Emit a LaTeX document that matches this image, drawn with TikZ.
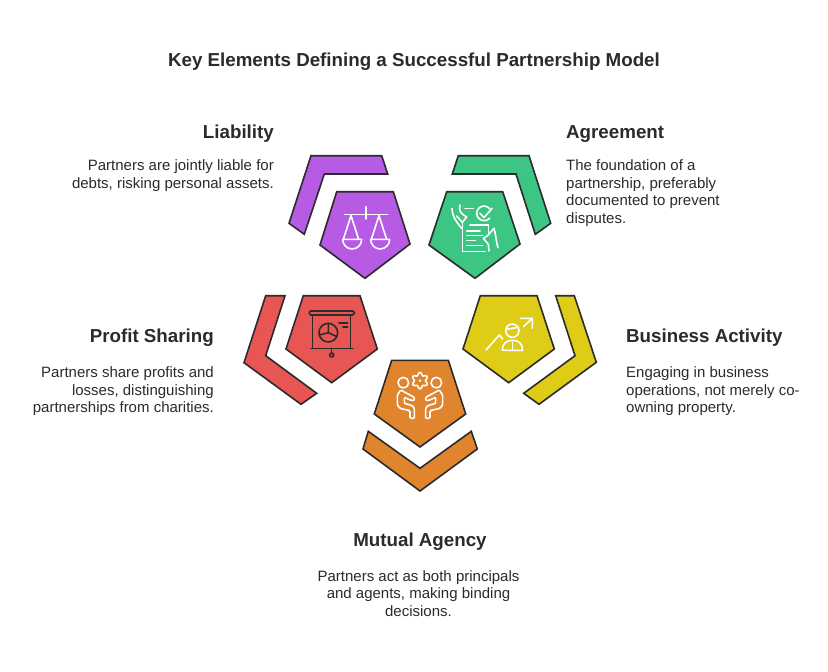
\documentclass[tikz,border=0pt]{standalone}
\usepackage{fontspec}
\setmainfont{Liberation Sans}
\definecolor{ink}{HTML}{2B2B2B}
\definecolor{cpurple}{HTML}{B75AE4}
\definecolor{cgreen}{HTML}{3CC583}
\definecolor{cred}{HTML}{E85654}
\definecolor{cyellow}{HTML}{DFCC17}
\definecolor{corange}{HTML}{E0842E}
\definecolor{txt}{HTML}{2B2B2B}
\tikzset{
  shapeline/.style={draw=ink,line width=1.6pt,line join=miter},
  iconw/.style={draw=white,line width=1.6pt,line cap=round,line join=round},
  icond/.style={draw=ink,line width=1.6pt,line cap=round,line join=round},
  heading/.style={font=\fontsize{18.75}{22}\selectfont\bfseries,text=txt,inner sep=0pt},
  body/.style={font=\fontsize{15}{17.7}\selectfont,text=txt,inner sep=0pt},
  zoomed/.style={x=0.3333pt,y=-0.3333pt}
}
\begin{document}
\begin{tikzpicture}[x=1pt,y=-1pt]
\useasboundingbox[fill=white] (0,0) rectangle (828,672);
% purple
\draw[shapeline,fill=cpurple] (336.7,191.7)--(393.3,191.7)--(410,244)--(365,278.3)--(320,245)--cycle;
\draw[shapeline,fill=cpurple] (311,155.7)--(381.7,155.7)--(387.7,174)--(324.3,174)--(304.3,234.3)--(289,223.3)--cycle;
% green
\draw[shapeline,fill=cgreen] (446.7,191.7)--(502.7,191.7)--(520,244)--(475,278.3)--(429,245)--cycle;
\draw[shapeline,fill=cgreen] (458.3,155.7)--(529,155.7)--(550.7,223.3)--(535.3,234.3)--(516,174)--(452.3,174)--cycle;
% red
\draw[shapeline,fill=cred] (303.3,295.7)--(360,295.7)--(377.3,349)--(331.7,382.7)--(286,349)--cycle;
\draw[shapeline,fill=cred] (265.7,295.7)--(285,295.7)--(265.7,355.7)--(316.7,393.3)--(301,404.3)--(244,362.7)--cycle;
% yellow
\draw[shapeline,fill=cyellow] (480.3,295.7)--(537,295.7)--(554.3,349)--(508.7,382.7)--(463,349)--cycle;
\draw[shapeline,fill=cyellow] (555.7,295.7)--(574.3,295.7)--(596.3,362.3)--(539,404.3)--(523.7,393.3)--(575,355.7)--cycle;
% orange
\draw[shapeline,fill=corange] (391.7,360.3)--(448.3,360.3)--(465.7,414)--(420,447)--(374.3,414)--cycle;
\draw[shapeline,fill=corange] (368.3,431.3)--(420,468.3)--(471.3,431.3)--(477.3,449)--(420,491)--(363,449)--cycle;
% scales icon
\begin{scope}[shift={(280,145)},zoomed]
\draw[iconw] (193,209)--(323,209) (258,185)--(258,222);
\draw[iconw] (190,283)--(213,212)--(236,283);
\draw[iconw] (188,283)--(245,283) arc[start angle=0,end angle=-180,x radius=28.5,y radius=-29]--cycle;
\draw[iconw] (274,283)--(297,212)--(320,283);
\draw[iconw] (272,283)--(329,283) arc[start angle=0,end angle=-180,x radius=28.5,y radius=-29]--cycle;
\end{scope}
% agreement icon
\begin{scope}[shift={(420,145)},zoomed]
\draw[iconw] (127,232)--(127,320)--(195,320);
\draw[iconw] (150,240)--(205,240)--(205,268);
\draw[iconw] (140,258)--(180,258) (140,272)--(188,272) (140,287)--(166,287) (140,302)--(188,302);
\draw[iconw] (135,190)--(160,190);
\draw[iconw] (209,191) arc[start angle=-40,end angle=-320,radius=22];
\draw[iconw] (180,205)--(192,218)--(216,190);
\draw[iconw] (96,190) .. controls (96,210) and (106,228) .. (125,250);
\draw[iconw] (120,180) .. controls (116,200) and (122,205) .. (140,216) -- (127,232) -- (110,213);
\draw[iconw] (222,250) .. controls (228,270) and (228,290) .. (234,308);
\draw[iconw] (222,250) -- (203,272) -- (190,280) -- (205,298) -- (207,318);
\end{scope}
% presentation icon
\begin{scope}[shift={(235,285)},zoomed]
\draw[icond,rounded corners=1.5pt] (223,78) rectangle (358,90);
\draw[icond] (233,90)--(233,190) (347,90)--(347,190) (228,190)--(354,190);
\draw[icond] (290,190)--(290,203);
\draw[icond] (290,210) circle[radius=6];
\draw[icond] (280,143) circle[radius=28];
\draw[icond] (280,115)--(280,143)--(306,155) (280,143)--(253,150);
\draw[icond] (312,114)--(338,114) (324,126)--(338,126);
\end{scope}
% growth icon
\begin{scope}[shift={(455,285)},zoomed]
\draw[iconw] (93,195)--(133,150)--(143,162);
\draw[iconw] (205,125)--(232,100) (197,100)--(232,100)--(232,130);
\draw[iconw] (172,137) circle[radius=20];
\draw[iconw] (153,133)--(191,127);
\draw[iconw] (142,196) .. controls (142,175) and (155,166) .. (172,166) .. controls (190,166) and (203,175) .. (203,196) -- cycle;
\draw[iconw] (172,172)--(172,196);
\end{scope}
% agency icon
\begin{scope}[shift={(355,340)},zoomed]
\draw[iconw] (145,128) circle[radius=16] (244,128) circle[radius=16];
\draw[iconw] plot[domain=0:360,samples=73,smooth] ({195+(20.5+4*cos(6*\x))*sin(\x)},{122+(20.5+4*cos(6*\x))*cos(\x)});
\fill[white] (195,122) circle[radius=4];
\draw[iconw,rounded corners=1pt] (137,150)--(178,172)--(178,181)--(168,181)--(148,172)--(148,190)--(172,197)--(178,205)--(178,235)--(165,235)--(165,212)--(135,205)--(127,195)--(127,165)--cycle;
\draw[iconw,rounded corners=1pt] (253,150)--(212,172)--(212,181)--(222,181)--(242,172)--(242,190)--(218,197)--(212,205)--(212,235)--(225,235)--(225,212)--(255,205)--(263,195)--(263,165)--cycle;
\end{scope}
% texts
\node[heading] (title) at (414,62) {Key Elements Defining a Successful Partnership Model};
\node[heading,anchor=base east] (liab) at (274,138) {Liability};
\node[body,anchor=north east,align=right] (liabt) at (274,159.3) {Partners are jointly liable for\\debts, risking personal assets.};
\node[heading,anchor=base west] (agr) at (566,138) {Agreement};
\node[body,anchor=north west,align=left] (agrt) at (566,159.3) {The foundation of a\\partnership, preferably\\documented to prevent\\disputes.};
\node[heading,anchor=base east] (prof) at (214,342) {Profit Sharing};
\node[body,anchor=north east,align=right] (proft) at (214,366.4) {Partners share profits and\\losses, distinguishing\\partnerships from charities.};
\node[heading,anchor=base west] (bus) at (626,342) {Business Activity};
\node[body,anchor=north west,align=left] (bust) at (626,366.4) {Engaging in business\\operations, not merely co-\\owning property.};
\node[heading,anchor=base] (mut) at (420,546) {Mutual Agency};
\node[body,anchor=north,align=center] (mutt) at (418.5,570) {Partners act as both principals\\and agents, making binding\\decisions.};
\end{tikzpicture}
\end{document}
